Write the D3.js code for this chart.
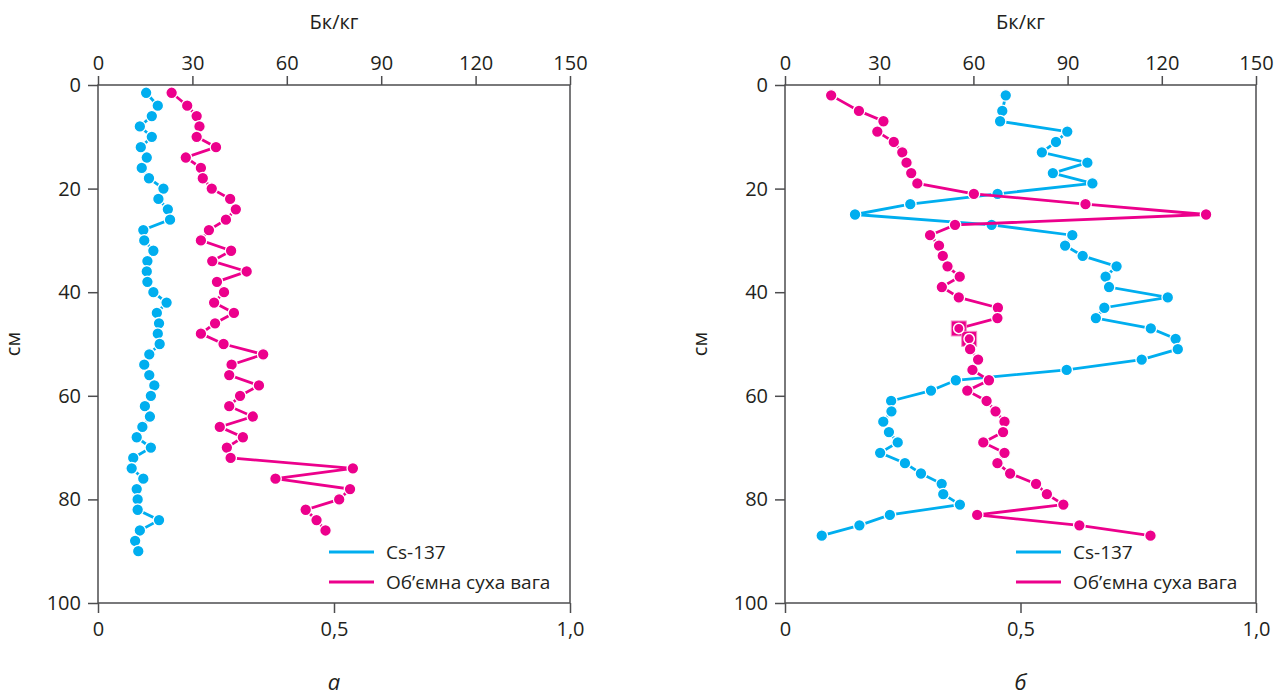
<!DOCTYPE html>
<html>
<head>
<meta charset="utf-8">
<script src="https://cdn.jsdelivr.net/npm/d3@7"></script>
<style>
  body { margin: 0; background: #fff; }
  text { font-family: "Open Sans", "Noto Sans", sans-serif; fill: #231f20; }
</style>
</head>
<body>
<div id="wrapper"></div>
<script>
// panel а
const depthA = [1.5, 4, 6, 8, 10, 12, 14, 16, 18, 20, 22, 24, 26, 28, 30, 32, 34, 36, 38, 40,
  42, 44, 46, 48, 50, 52, 54, 56, 58, 60, 62, 64, 66, 68, 70, 72, 74, 76, 78, 80,
  82, 84, 86, 88, 90]
const csA = [15.3, 19.0, 17.1, 13.3, 17.1, 13.6, 15.5, 13.9, 16.2, 20.8,
  19.2, 22.2, 22.9, 14.4, 14.7, 17.6, 15.7, 15.5, 15.7, 17.6,
  21.8, 18.7, 19.4, 19.0, 19.6, 16.3, 14.7, 16.3, 17.9, 16.8,
  14.9, 16.5, 14.1, 12.3, 16.8, 11.2, 10.7, 14.4, 12.3, 12.6,
  12.6, 19.4, 13.3, 11.8, 12.8]
const densA = [0.156, 0.189, 0.209, 0.215, 0.209, 0.250, 0.186, 0.218, 0.222, 0.241,
  0.280, 0.292, 0.271, 0.235, 0.218, 0.282, 0.242, 0.315, 0.252, 0.267,
  0.246, 0.288, 0.248, 0.218, 0.266, 0.350, 0.283, 0.278, 0.341, 0.301,
  0.278, 0.328, 0.258, 0.307, 0.273, 0.281, 0.540, 0.376, 0.534, 0.511,
  0.440, 0.463, 0.482]

// panel б
const depthB = [2, 5, 7, 9, 11, 13, 15, 17, 19, 21, 23, 25, 27, 29, 31, 33, 35, 37, 39, 41,
  43, 45, 47, 49, 51, 53, 55, 57, 59, 61, 63, 65, 67, 69, 71, 73, 75, 77, 79, 81,
  83, 85, 87]
const csB = [70.3, 69.2, 68.5, 89.9, 86.3, 81.8, 96.3, 85.3, 97.9, 67.7,
  39.9, 22.3, 65.8, 91.5, 89.2, 94.8, 105.6, 102.1, 103.2, 121.9,
  101.7, 99.0, 116.5, 124.4, 125.1, 113.6, 89.7, 54.4, 46.5, 33.8,
  33.9, 31.3, 33.1, 35.9, 30.3, 38.2, 43.3, 49.9, 50.4, 55.7,
  33.4, 23.7, 11.7]
const densB = [0.098, 0.157, 0.209, 0.196, 0.231, 0.249, 0.258, 0.268, 0.281, 0.401,
  0.638, 0.894, 0.361, 0.308, 0.327, 0.335, 0.345, 0.371, 0.333, 0.369,
  0.452, 0.451, 0.369, 0.391, 0.393, 0.410, 0.398, 0.433, 0.387, 0.428,
  0.447, 0.466, 0.463, 0.421, 0.466, 0.451, 0.478, 0.533, 0.556, 0.591,
  0.408, 0.625, 0.776]
const markedB = [47, 49]

const bqTicks = [0, 30, 60, 90, 120, 150]
const densTicks = [0, 0.5, 1.0]
const depthTicks = [0, 20, 40, 60, 80, 100]
const seriesNames = ['Cs-137', 'Об’ємна суха вага']
const topTitle = 'Бк/кг'
const depthTitle = 'см'

const colorCs = '#00aeef'
const colorDens = '#ec008c'
const frameColor = '#4d4d4f'

const width = 1282
const height = 697

const svg = d3.select('#wrapper').append('svg')
  .attr('width', width).attr('height', height)

const fmtDens = (d) => (d === 0 ? '0' : d3.format('.1f')(d).replace('.', ','))

const drawPanel = (opt) => {
  const { x0, x1, y0, y1, depth, cs, dens, depthDens, marked, letter } = opt
  const g = svg.append('g')

  const xBq = d3.scaleLinear().domain([0, 150]).range([x0, x1])
  const xDens = d3.scaleLinear().domain([0, 1]).range([x0, x1])
  const yScale = d3.scaleLinear().domain([0, 100]).range([y0, y1])

  // frame
  g.append('rect')
    .attr('x', x0).attr('y', y0)
    .attr('width', x1 - x0).attr('height', y1 - y0)
    .attr('fill', 'none').attr('stroke', frameColor).attr('stroke-width', 1.5)

  const styleAxis = (sel) => {
    sel.select('.domain').remove()
    sel.selectAll('line').attr('stroke', frameColor).attr('stroke-width', 1.5)
    sel.selectAll('text').style('font-size', '20px').attr('fill', '#231f20')
  }

  g.append('g')
    .attr('transform', `translate(0,${y0})`)
    .call(d3.axisTop(xBq).tickValues(bqTicks).tickSize(9).tickPadding(6).tickFormat(d3.format('d')))
    .call(styleAxis)

  g.append('g')
    .attr('transform', `translate(0,${y1})`)
    .call(d3.axisBottom(xDens).tickValues(densTicks).tickSize(10).tickPadding(9).tickFormat(fmtDens))
    .call(styleAxis)

  g.append('g')
    .attr('transform', `translate(${x0},0)`)
    .call(d3.axisLeft(yScale).tickValues(depthTicks).tickSize(10).tickPadding(7).tickFormat(d3.format('d')))
    .call(styleAxis)

  g.append('text')
    .attr('x', (x0 + x1) / 2).attr('y', 29)
    .attr('text-anchor', 'middle')
    .style('font-size', '20px')
    .text(topTitle)

  g.append('text')
    .attr('transform', `translate(${x0 - 78},${(y0 + y1) / 2}) rotate(-90)`)
    .attr('text-anchor', 'middle')
    .style('font-size', '20px')
    .text(depthTitle)

  g.append('text')
    .attr('x', (x0 + x1) / 2).attr('y', 690)
    .attr('text-anchor', 'middle')
    .style('font-size', '22px').style('font-style', 'italic')
    .text(letter)

  const csData = cs.map((v, i) => ({ v, d: depth[i] }))
  const densData = dens.map((v, i) => ({ v, d: depthDens[i] }))

  const lineCs = d3.line().x((p) => xBq(p.v)).y((p) => yScale(p.d))
  const lineDens = d3.line().x((p) => xDens(p.v)).y((p) => yScale(p.d))

  g.append('path').datum(csData)
    .attr('d', lineCs)
    .attr('fill', 'none').attr('stroke', colorCs).attr('stroke-width', 2.8)
  g.selectAll('.pt-cs').data(csData).enter().append('circle')
    .attr('class', 'pt-cs')
    .attr('cx', (p) => xBq(p.v)).attr('cy', (p) => yScale(p.d))
    .attr('r', 5.8)
    .attr('fill', colorCs).attr('stroke', '#fff').attr('stroke-width', 1.3)

  g.append('path').datum(densData)
    .attr('d', lineDens)
    .attr('fill', 'none').attr('stroke', colorDens).attr('stroke-width', 2.8)

  // square markers for flagged samples
  const sq = 15
  g.selectAll('.sq').data(densData.filter((p) => marked.includes(p.d))).enter().append('rect')
    .attr('class', 'sq')
    .attr('x', (p) => xDens(p.v) - sq / 2).attr('y', (p) => yScale(p.d) - sq / 2)
    .attr('width', sq).attr('height', sq)
    .attr('fill', colorDens).attr('stroke', '#f48fc6').attr('stroke-width', 1)

  g.selectAll('.pt-dens').data(densData).enter().append('circle')
    .attr('class', 'pt-dens')
    .attr('cx', (p) => xDens(p.v)).attr('cy', (p) => yScale(p.d))
    .attr('r', (p) => (marked.includes(p.d) ? 5.2 : 5.8))
    .attr('fill', colorDens).attr('stroke', '#fff')
    .attr('stroke-width', (p) => (marked.includes(p.d) ? 1.5 : 1.3))

  // legend
  const lx = x0 + 231
  const legend = g.append('g').attr('transform', `translate(${lx},552)`)
  ;[colorCs, colorDens].forEach((c, i) => {
    legend.append('line')
      .attr('x1', 0).attr('x2', 45)
      .attr('y1', i * 30).attr('y2', i * 30)
      .attr('stroke', c).attr('stroke-width', 2.8)
    legend.append('text')
      .attr('x', 57).attr('y', i * 30 + 7)
      .style('font-size', '19px')
      .text(seriesNames[i])
  })
}

drawPanel({ x0: 98, x1: 570, y0: 85, y1: 603, depth: depthA, cs: csA, dens: densA,
  depthDens: depthA.slice(0, densA.length), marked: [], letter: 'а' })
drawPanel({ x0: 785, x1: 1256, y0: 85, y1: 603, depth: depthB, cs: csB, dens: densB,
  depthDens: depthB, marked: markedB, letter: 'б' })
</script>
</body>
</html>
